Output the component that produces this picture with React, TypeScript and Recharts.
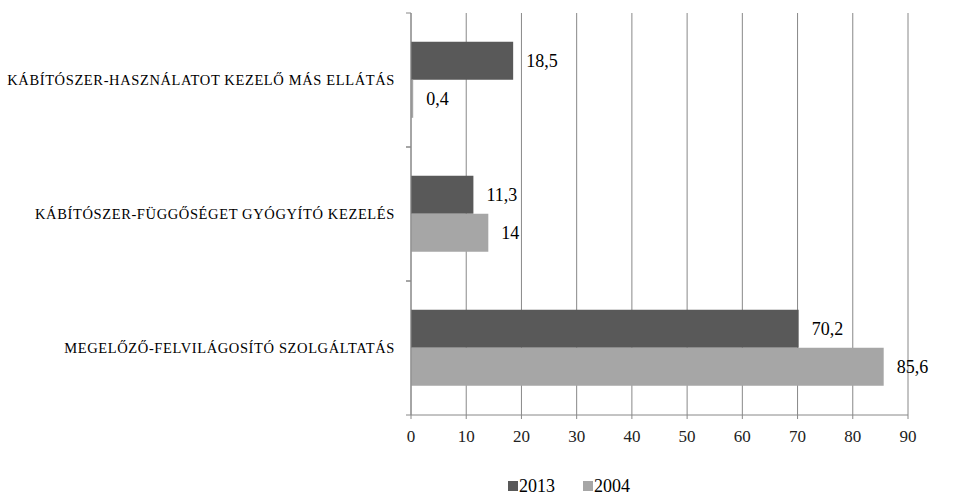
import React from 'react';
import { BarChart, Bar, XAxis, YAxis, CartesianGrid, Legend, LabelList } from 'recharts';

const categories = [
  'Kábítószer-használatot kezelő más ellátás',
  'Kábítószer-függőséget gyógyító kezelés',
  'Megelőző-felvilágosító szolgáltatás',
];
const values2013 = [18.5, 11.3, 70.2];
const values2004 = [0.4, 14, 85.6];
const xTicks = [0, 10, 20, 30, 40, 50, 60, 70, 80, 90];
const seriesNames = ['2013', '2004'];
const seriesColors = ['#595959', '#a6a6a6'];

const data = categories.map((name, i) => ({
  name,
  s2013: values2013[i],
  s2004: values2004[i],
}));

const FONT = 'Liberation Serif';

const CategoryTick = (props: any) => {
  const { x, y, payload } = props;
  const half = 67;
  return (
    <g>
      <text
        x={x - 16}
        y={y}
        textAnchor="end"
        dominantBaseline="central"
        style={{ fontFamily: FONT, fontSize: 14.5, letterSpacing: 0.62 }}
        fill="#000"
      >
        {String(payload.value).toUpperCase()}
      </text>
      <line x1={x - 5} x2={x} y1={y - half} y2={y - half} stroke="#888" strokeWidth={1} />
      <line x1={x - 5} x2={x} y1={y + half} y2={y + half} stroke="#888" strokeWidth={1} />
    </g>
  );
};

const NumberTick = (props: any) => {
  const { x, y, payload } = props;
  return (
    <text x={x} y={y} dy={12} textAnchor="middle" style={{ fontFamily: FONT, fontSize: 17 }} fill="#222">
      {payload.value}
    </text>
  );
};

const fmt = (v: any) => String(v).replace('.', ',');

const ValueLabel = (props: any) => {
  const { x, y, width, height, value } = props;
  return (
    <text
      x={Number(x) + Number(width) + 13}
      y={Number(y) + Number(height) / 2}
      dominantBaseline="central"
      style={{ fontFamily: FONT, fontSize: 18 }}
      fill="#000"
    >
      {fmt(value)}
    </text>
  );
};

const LegendContent = () => {
  return (
    <div style={{ display: 'flex', height: 22, paddingLeft: 508, fontFamily: FONT, fontSize: 18, color: '#000', lineHeight: '22px' }}>
      {seriesNames.map((name, i) => (
        <div key={name} style={{ display: 'flex', alignItems: 'center', marginRight: 28 }}>
          <span style={{ display: 'inline-block', width: 10, height: 10, background: seriesColors[i], marginRight: 1 }} />
          <span>{name}</span>
        </div>
      ))}
    </div>
  );
};

export default function App() {
  return (
    <div style={{ position: 'absolute', left: 0, top: 0, width: 953, height: 495, background: '#fff' }}>
      <BarChart
        width={953}
        height={495}
        data={data}
        layout="vertical"
        margin={{ top: 13, right: 45, left: 0, bottom: 50 }}
        barCategoryGap="21.5%"
        barGap={0}
      >
        <CartesianGrid horizontal={false} vertical={true} stroke="#888" strokeWidth={1} />
        <XAxis
          type="number"
          domain={[0, 90]}
          ticks={xTicks}
          interval={0}
          height={30}
          stroke="#888"
          tickSize={4}
          tickMargin={11}
          tick={<NumberTick />}
        />
        <YAxis
          type="category"
          dataKey="name"
          width={411}
          stroke="#888"
          tickLine={false}
          tickSize={0}
          tickMargin={0}
          tick={<CategoryTick />}
          interval={0}
        />
        <Legend
          layout="horizontal"
          verticalAlign="middle"
          align="center"
          wrapperStyle={{ position: 'absolute', top: 475, left: 0, width: 953, height: 22 }}
          content={<LegendContent />}
        />
        <Bar dataKey="s2013" name={seriesNames[0]} fill={seriesColors[0]} isAnimationActive={false}>
          <LabelList dataKey="s2013" content={<ValueLabel />} />
        </Bar>
        <Bar dataKey="s2004" name={seriesNames[1]} fill={seriesColors[1]} isAnimationActive={false}>
          <LabelList dataKey="s2004" content={<ValueLabel />} />
        </Bar>
      </BarChart>
    </div>
  );
}
